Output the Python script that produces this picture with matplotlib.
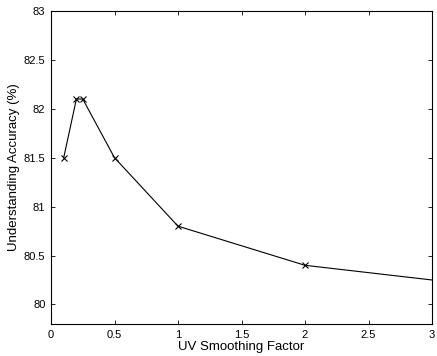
import matplotlib
matplotlib.use('Agg')
import matplotlib.pyplot as plt

# smoothing factor vs accuracy
smoothing = [0.1, 0.2, 0.25, 0.5, 1.0, 2.0, 3.0]
accuracy = [81.5, 82.1, 82.1, 81.5, 80.8, 80.4, 80.25]
x_ticks = [0, 0.5, 1, 1.5, 2, 2.5, 3]
y_ticks = [80, 80.5, 81, 81.5, 82, 82.5, 83]

plt.rcParams['font.family'] = ['Liberation Sans', 'DejaVu Sans']
plt.rcParams['font.size'] = 8

fig = plt.figure(figsize=(4.37, 3.56), dpi=100)
ax = fig.add_axes([0.1167, 0.0899, 0.8719, 0.8792])

# last point sits on the right border with no marker
ax.plot(smoothing, accuracy, color='black', linewidth=0.8,
        marker='x', markersize=4, markeredgewidth=0.8,
        markevery=list(range(len(smoothing) - 1)))

ax.set_xlim(0, 3)
ax.set_ylim(79.8, 83)
ax.set_xticks(x_ticks)
ax.set_xticklabels(['0', '0.5', '1', '1.5', '2', '2.5', '3'])
ax.set_yticks(y_ticks)
ax.set_yticklabels(['80', '80.5', '81', '81.5', '82', '82.5', '83'])
ax.tick_params(direction='in', top=True, right=True, length=3, width=0.6, pad=4)
for pos in ['right', 'top', 'bottom', 'left']:
    ax.spines[pos].set_linewidth(0.8)

ax.set_xlabel('UV Smoothing Factor', fontsize=9.5, labelpad=1)
ax.set_ylabel('Understanding Accuracy (%)', fontsize=9.5, labelpad=3)

fig.savefig('out.png', dpi=100)
